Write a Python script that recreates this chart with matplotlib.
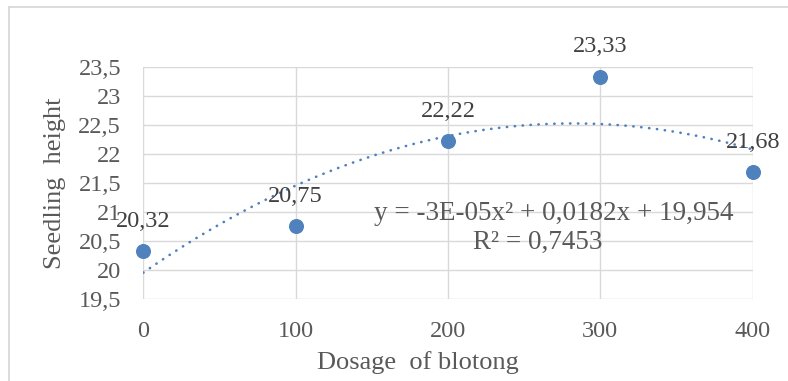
import numpy as np
import matplotlib
matplotlib.use("Agg")
import matplotlib.pyplot as plt
from matplotlib.lines import Line2D

dosage = [0, 100, 200, 300, 400]
height = [20.32, 20.75, 22.22, 23.33, 21.68]
labels = ["20,32", "20,75", "22,22", "23,33", "21,68"]
y_ticks = [19.5, 20, 20.5, 21, 21.5, 22, 22.5, 23, 23.5]
y_ticklabels = ["19,5", "20", "20,5", "21", "21,5", "22", "22,5", "23", "23,5"]
x_ticks = [0, 100, 200, 300, 400]
eq_line1 = "y = -3E-05x² + 0,0182x + 19,954"
eq_line2 = "R² = 0,7453"

plt.rcParams['font.family'] = ['Liberation Serif', 'DejaVu Serif']

W, H = 788, 381
fig = plt.figure(figsize=(W/100, H/100), dpi=100)
ax = fig.add_axes([143.3/W, (H-299)/H, (752.7-143.3)/W, (299-66.7)/H])

tick_col = '#595959'
grid_col = '#D9D9D9'
blue = '#4F81BD'

ax.set_xlim(0, 400)
ax.set_ylim(19.5, 23.5)
ax.set_xticks(x_ticks)
ax.set_xticklabels([str(v) for v in x_ticks])
ax.set_yticks(y_ticks)
ax.set_yticklabels(y_ticklabels)
ax.grid(True, color=grid_col, linewidth=1.0)
ax.set_axisbelow(True)
for s in ax.spines.values():
    s.set_visible(False)
ax.tick_params(length=0, labelsize=17.5, labelcolor=tick_col)
ax.tick_params(axis='x', pad=16)
ax.tick_params(axis='y', pad=16)

# polynomial trendline fitted from data
coef = np.polyfit(dosage, height, 2)
xs = np.linspace(0, 400, 300)
ax.plot(xs, np.polyval(coef, xs), color=blue, linewidth=1.9,
        linestyle=(0, (0.1, 2.9)), dash_capstyle='round', zorder=2)

ax.plot(dosage, height, 'o', color=blue, markersize=9.8, zorder=3, clip_on=False)

for x, y, t in zip(dosage, height, labels):
    ax.annotate(t, (x, y), xytext=(0, 21.5), textcoords='offset points',
                ha='center', va='center', fontsize=17.5, color='#404040',
                annotation_clip=False, zorder=4)

fig.text(554/W, 1-213/H, eq_line1, ha='center', va='center', fontsize=19.5, color=tick_col)
fig.text(538/W, 1-242/H, eq_line2, ha='center', va='center', fontsize=19.5, color=tick_col)

fig.text(418/W, 1-363/H, "Dosage  of blotong", ha='center', va='center',
         fontsize=19, color=tick_col)
fig.text(55/W, 1-183/H, "Seedling  height", ha='center', va='center',
         rotation=90, fontsize=19, color=tick_col)

# chart border (left and top edges visible)
fig.add_artist(Line2D([9/W, 9/W], [0, 1-7/H], color=grid_col, linewidth=1.3,
                      transform=fig.transFigure))
fig.add_artist(Line2D([9/W, 1], [1-7/H, 1-7/H], color=grid_col, linewidth=1.3,
                      transform=fig.transFigure))

fig.savefig("out.png", dpi=100)
